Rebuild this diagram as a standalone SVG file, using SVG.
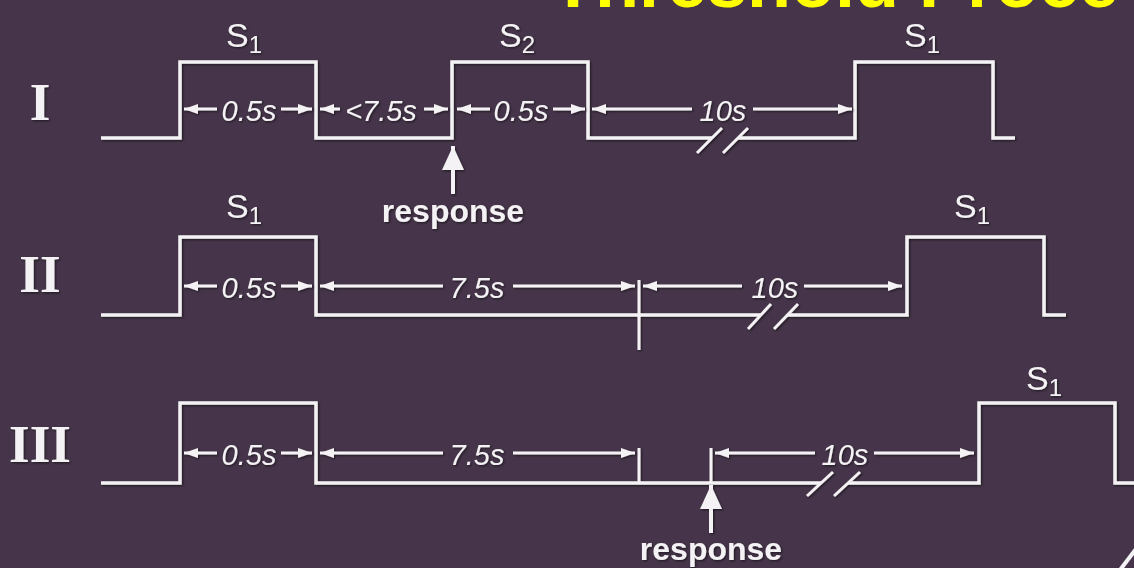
<svg xmlns="http://www.w3.org/2000/svg" width="1134" height="568" viewBox="0 0 1134 568">
  <style>
    .sig { fill: none; stroke: #f4f2f4; stroke-width: 3.5; stroke-linejoin: miter; stroke-linecap: butt; }
    .thin { fill: none; stroke: #f4f2f4; stroke-width: 3; }
    .dim { fill: none; stroke: #f4f2f4; stroke-width: 3; marker-end: url(#head); }
    .dt { font-family: "Liberation Sans", Arial, sans-serif; font-style: italic; font-size: 29px; fill: #f4f2f4; text-anchor: middle; }
    .lab { font-family: "Liberation Sans", Arial, sans-serif; font-size: 34px; fill: #f4f2f4; }
    .sub { font-size: 24px; }
    .resp { font-family: "Liberation Sans", Arial, sans-serif; font-weight: bold; font-size: 32px; fill: #f4f2f4; text-anchor: middle; }
    .roman { font-family: "Liberation Serif", "Times New Roman", serif; font-weight: bold; font-size: 53px; fill: #f4f2f4; text-anchor: middle; }
    .title { font-family: "Liberation Sans", Arial, sans-serif; font-weight: bold; font-size: 72px; fill: #ffff00; }
  </style>
  <defs>
    <marker id="head" markerUnits="userSpaceOnUse" markerWidth="14" markerHeight="10" viewBox="0 0 14 10" refX="14" refY="5" orient="auto">
      <path d="M0,0 L14,5 L0,10 z" fill="#f4f2f4"/>
    </marker>
    <marker id="bighead" markerUnits="userSpaceOnUse" markerWidth="24" markerHeight="22" viewBox="0 0 24 22" refX="24" refY="11" orient="auto">
      <path d="M0,0 L24,11 L0,22 z" fill="#f4f2f4"/>
    </marker>
    <filter id="shade" x="-5%" y="-5%" width="110%" height="110%">
      <feDropShadow dx="1.2" dy="1.2" stdDeviation="1" flood-color="#000" flood-opacity="0.55"/>
    </filter>
  </defs>

  <rect width="1134" height="568" fill="#46354a"/>

  <!-- heading, running off the top edge -->
  <text class="title" x="551" y="7">Threshold Proce</text>

  <!-- row labels -->
  <g id="row-labels" filter="url(#shade)">
    <text class="roman" x="40" y="120">I</text>
    <text class="roman" x="40" y="292">II</text>
    <text class="roman" x="40" y="462">III</text>
  </g>

  <!-- trace I : S1, response, S2, 10 s pause, S1 -->
  <g id="trace-1" filter="url(#shade)">
    <path class="sig" d="M101,138 H180 V62 H316 V138 H452 V62 H588 V138 H712"/>
    <path class="sig" d="M738,138 H855 V62 H993 V138 H1015"/>
    <line class="thin" x1="697" y1="153" x2="722" y2="128"/>
    <line class="thin" x1="723" y1="153" x2="748" y2="128"/>
    <text class="lab" x="226" y="47">S<tspan class="sub" dy="6">1</tspan></text>
    <text class="lab" x="499" y="47">S<tspan class="sub" dy="6">2</tspan></text>
    <text class="lab" x="904" y="47">S<tspan class="sub" dy="6">1</tspan></text>
    <text class="dt" x="249" y="121">0.5s</text>
    <text class="dt" x="381" y="121">&lt;7.5s</text>
    <text class="dt" x="521" y="121">0.5s</text>
    <text class="dt" x="723" y="121">10s</text>
    <text class="resp" x="453" y="222">response</text>
  </g>

  <!-- trace II : S1, 7.5 s window, 10 s pause, S1 -->
  <g id="trace-2" filter="url(#shade)">
    <path class="sig" d="M101,315 H180 V237 H316 V315 H761"/>
    <path class="sig" d="M787,315 H907 V237 H1044 V315 H1066"/>
    <line class="thin" x1="748" y1="329" x2="771" y2="304"/>
    <line class="thin" x1="774" y1="329" x2="798" y2="304"/>
    <line class="thin" x1="639" y1="280" x2="639" y2="350"/>
    <text class="lab" x="226" y="218">S<tspan class="sub" dy="6">1</tspan></text>
    <text class="lab" x="954" y="218">S<tspan class="sub" dy="6">1</tspan></text>
    <text class="dt" x="249" y="298">0.5s</text>
    <text class="dt" x="477" y="298">7.5s</text>
    <text class="dt" x="775" y="298">10s</text>
  </g>

  <!-- trace III : S1, 7.5 s window, late response, 10 s pause, S1 -->
  <g id="trace-3" filter="url(#shade)">
    <path class="sig" d="M101,483 H180 V403 H316 V483 H821"/>
    <path class="sig" d="M848,483 H979 V403 H1115 V483 H1140"/>
    <line class="thin" x1="807" y1="496" x2="833" y2="472"/>
    <line class="thin" x1="834" y1="496" x2="860" y2="472"/>
    <line class="thin" x1="639" y1="448" x2="639" y2="483"/>
    <line class="thin" x1="711" y1="448" x2="711" y2="483"/>
    <text class="lab" x="1026" y="390">S<tspan class="sub" dy="6">1</tspan></text>
    <text class="dt" x="249" y="465">0.5s</text>
    <text class="dt" x="477" y="465">7.5s</text>
    <text class="dt" x="845" y="465">10s</text>
    <text class="resp" x="711" y="560">response</text>
  </g>

  <!-- dimension arrows and response markers -->
  <g id="connectors" filter="url(#shade)">
    <!-- trace I -->
    <line class="dim" x1="217" y1="109" x2="184" y2="109"/>
    <line class="dim" x1="281" y1="109" x2="312" y2="109"/>
    <line class="dim" x1="340" y1="109" x2="320" y2="109"/>
    <line class="dim" x1="424" y1="109" x2="448" y2="109"/>
    <line class="dim" x1="490" y1="109" x2="457" y2="109"/>
    <line class="dim" x1="553" y1="109" x2="585" y2="109"/>
    <line class="dim" x1="692" y1="109" x2="592" y2="109"/>
    <line class="dim" x1="753" y1="109" x2="852" y2="109"/>
    <line x1="453" y1="194" x2="453" y2="146" stroke="#f4f2f4" stroke-width="4" marker-end="url(#bighead)"/>
    <!-- trace II -->
    <line class="dim" x1="217" y1="286" x2="184" y2="286"/>
    <line class="dim" x1="281" y1="286" x2="312" y2="286"/>
    <line class="dim" x1="443" y1="286" x2="320" y2="286"/>
    <line class="dim" x1="513" y1="286" x2="635" y2="286"/>
    <line class="dim" x1="742" y1="286" x2="643" y2="286"/>
    <line class="dim" x1="804" y1="286" x2="902" y2="286"/>
    <!-- trace III -->
    <line class="dim" x1="217" y1="453" x2="184" y2="453"/>
    <line class="dim" x1="281" y1="453" x2="312" y2="453"/>
    <line class="dim" x1="443" y1="453" x2="320" y2="453"/>
    <line class="dim" x1="513" y1="453" x2="635" y2="453"/>
    <line class="dim" x1="815" y1="453" x2="715" y2="453"/>
    <line class="dim" x1="874" y1="453" x2="974" y2="453"/>
    <line x1="711" y1="533" x2="711" y2="485" stroke="#f4f2f4" stroke-width="4" marker-end="url(#bighead)"/>
  </g>

  <!-- corner edge -->
  <path d="M1120,570 L1136,549" stroke="#f4f2f4" stroke-width="4" fill="none"/>
</svg>
